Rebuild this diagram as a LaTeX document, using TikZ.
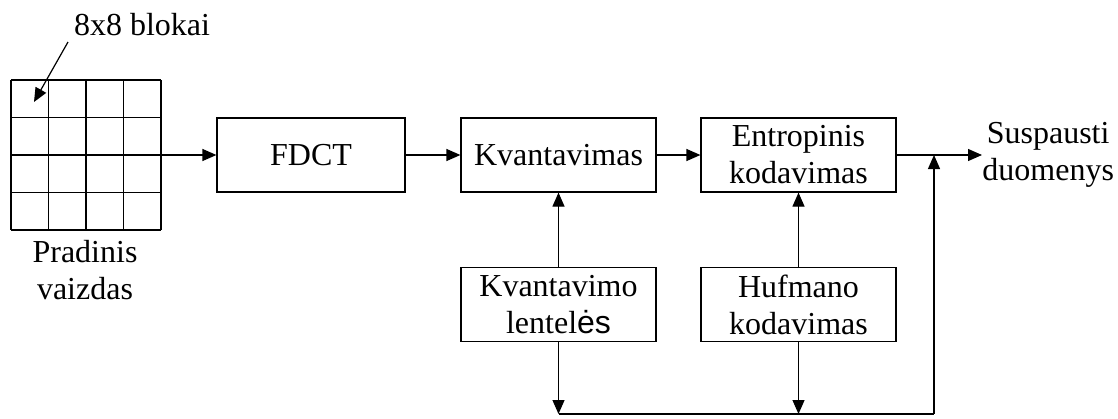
\documentclass[tikz,border=0pt]{standalone}
\usepackage{fontspec}
\setmainfont{Liberation Serif}
\setsansfont{Liberation Sans}
\usetikzlibrary{arrows.meta}

\begin{document}
\begin{tikzpicture}[x=0.5pt, y=-0.5pt,
    block/.style={draw, line width=0.6pt, minimum width=97.5pt, minimum height=37pt,
      inner sep=0pt, align=center, font=\fontsize{16}{18.5}\selectfont},
    lbl/.style={inner sep=0pt, align=center, font=\fontsize{16}{18.5}\selectfont},
    arr/.style={-{Triangle[length=7pt,width=6pt]}, line width=0.6pt}]
  \useasboundingbox (0,0) rectangle (1118,418);

  % Input image, 4x4 blocks
  \node[minimum size=75pt, inner sep=0pt] (img) at (86,155) {};
  \foreach \i in {0,...,4} {
    \draw[line width=0.6pt] (11+37.5*\i,80) -- (11+37.5*\i,230);
    \draw[line width=0.6pt] (11,80+37.5*\i) -- (161,80+37.5*\i);
  }
  \node[lbl] (blk) at (142,25) {8x8 blokai};
  \coordinate (blkfoot) at (68,42);
  \coordinate (cell) at (34,102);
  \draw[arr] (blkfoot) -- (cell);
  \node[lbl] (src) at (85,270) {Pradinis\\vaizdas};

  % Main chain
  \node[block, minimum width=94pt] (fdct) at (311,155) {FDCT};
  \node[block] (kv) at (558.5,155) {Kvantavimas};
  \node[block] (ent) at (798.5,155) {Entropinis\\kodavimas};
  \node[lbl, anchor=west] (out) at (982,155) {Suspausti\\duomenys};

  % Tables
  \node[block] (kvl) at (558.5,304.5) {Kvantavimo\\lentel{\sffamily ės}};
  \node[block] (huf) at (798.5,304.5) {Hufmano\\kodavimas};

  % Connectors
  \draw[arr] (img.east) -- (fdct.west);
  \draw[arr] (fdct.east) -- (kv.west);
  \draw[arr] (kv.east) -- (ent.west);
  \draw[arr] (ent.east) -- (out.west);
  \draw[arr] (kvl.north) -- (kv.south);
  \draw[arr] (huf.north) -- (ent.south);

  % Bottom bus to output
  \coordinate (join) at (934,414);
  \draw[arr] (kvl.south) -- (kvl.south |- join);
  \draw[arr] (huf.south) -- (huf.south |- join);
  \draw[line width=0.6pt] (kvl.south |- join) -- (join);
  \draw[arr] (join) -- (join |- ent.east);
\end{tikzpicture}
\end{document}
